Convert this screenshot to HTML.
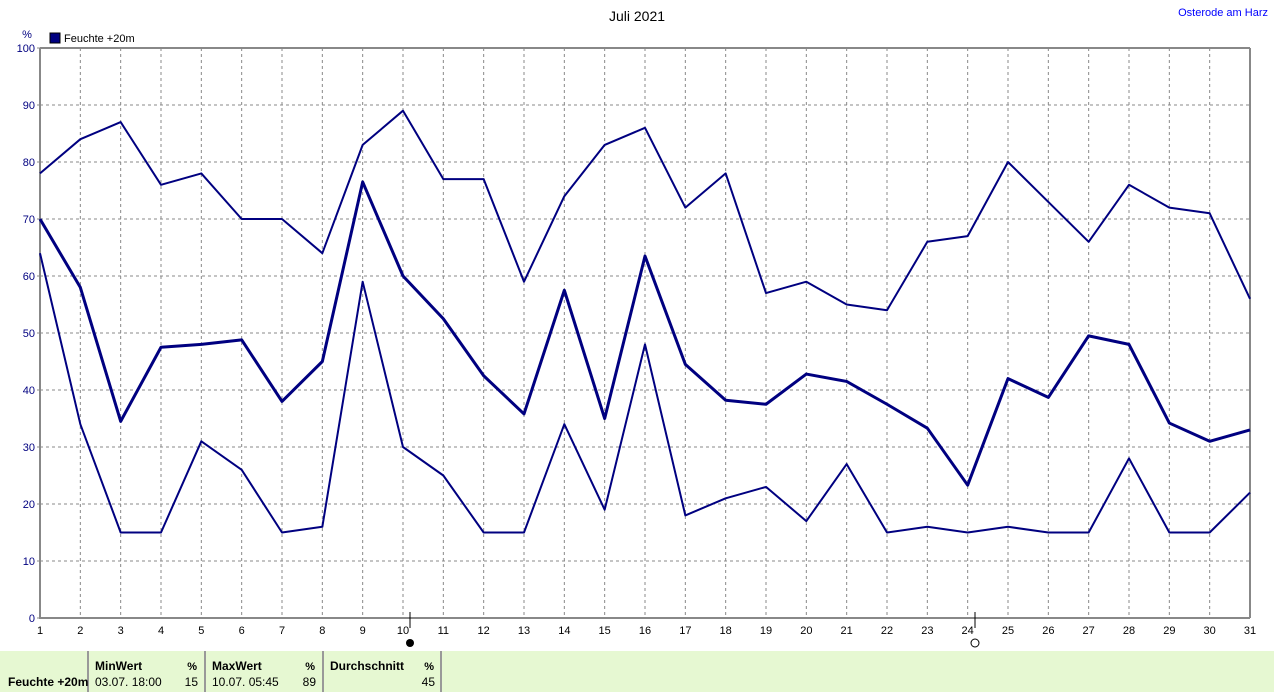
<!DOCTYPE html><html><head><style>
body{margin:0;width:1274px;height:692px;background:#fff;overflow:hidden;font-family:"Liberation Sans",sans-serif;}
</style></head><body>
<svg id="s" width="1274" height="692" xmlns="http://www.w3.org/2000/svg" font-family="Liberation Sans, sans-serif"></svg>
<script>
const mx=[78,84,87,76,78,70,70,64,83,89,77,77,59,74,83,86,72,78,57,59,55,54,66,67,80,73,66,76,72,71,56];
const av=[70,58,34.5,47.5,48,48.8,38,45,76.5,60,52.5,42.5,35.8,57.5,35,63.5,44.5,38.2,37.5,42.8,41.5,37.5,33.3,23.3,42,38.7,49.5,48,34.2,31,33];
const mn=[64,34,15,15,31,26,15,16,59,30,25,15,15,34,19,48,18,21,23,17,27,15,16,15,16,15,15,28,15,15,22];
const X=i=>40+i*1210/30, Y=v=>618-v*5.7;
let h='';
h+='<text x="637" y="21" font-size="14" text-anchor="middle">Juli 2021</text>';
h+='<text x="1268" y="16" font-size="11" fill="#0000ff" text-anchor="end">Osterode am Harz</text>';
h+='<text x="27" y="38" font-size="11" fill="#000080" text-anchor="middle">%</text>';
h+='<rect x="50" y="33" width="10" height="10" fill="#000080" stroke="#000" stroke-width="1"/><text x="64" y="42" font-size="11">Feuchte +20m</text>';
for(let v=10;v<100;v+=10)h+=`<line x1="40" x2="1250" y1="${Y(v)}" y2="${Y(v)}" stroke="#888" stroke-dasharray="3,3"/>`;
for(let i=1;i<30;i++)h+=`<line x1="${X(i)}" x2="${X(i)}" y1="48" y2="618" stroke="#888" stroke-dasharray="3,3"/>`;
h+='<line x1="40" x2="1250" y1="48" y2="48" stroke="#888" stroke-width="2"/><line x1="40" x2="40" y1="48" y2="619" stroke="#888" stroke-width="2"/><line x1="40" x2="1250" y1="618" y2="618" stroke="#888" stroke-width="2"/><line x1="1250" x2="1250" y1="48" y2="618" stroke="#888" stroke-width="2"/>';
for(let v=0;v<=100;v+=10)h+=`<text x="35" y="${Y(v)+4}" font-size="11" fill="#000080" text-anchor="end">${v}</text><line x1="37" x2="40" y1="${Y(v)}" y2="${Y(v)}" stroke="#888"/>`;
for(let i=0;i<31;i++)h+=`<text x="${X(i)}" y="634" font-size="11" text-anchor="middle">${i+1}</text>`;
h+='<line x1="410" x2="410" y1="612" y2="628" stroke="#000"/><circle cx="410" cy="643" r="4" fill="#000"/>';
h+='<line x1="975" x2="975" y1="612" y2="628" stroke="#000"/><circle cx="975" cy="643" r="4" fill="#fff" stroke="#000"/>';
const pl=(d,w)=>`<polyline fill="none" stroke="#000080" stroke-width="${w}" stroke-linejoin="round" points="${d.map((v,i)=>X(i)+','+Y(v)).join(' ')}"/>`;
h+=pl(mx,2)+pl(mn,2)+pl(av,3);
h+='<rect x="0" y="651" width="1274" height="41" fill="#e6f8d2"/>';
[88,205,323,441].forEach(x=>h+=`<line x1="${x}" x2="${x}" y1="651" y2="692" stroke="#999" stroke-width="2"/>`);
h+='<text x="8" y="686" font-size="12" font-weight="bold">Feuchte +20m</text>';
h+='<text x="95" y="670" font-size="12" font-weight="bold">MinWert</text><text x="197" y="670" font-size="11" font-weight="bold" text-anchor="end">%</text><text x="95" y="686" font-size="12">03.07.  18:00</text><text x="198" y="686" font-size="12" text-anchor="end">15</text>';
h+='<text x="212" y="670" font-size="12" font-weight="bold">MaxWert</text><text x="315" y="670" font-size="11" font-weight="bold" text-anchor="end">%</text><text x="212" y="686" font-size="12">10.07.  05:45</text><text x="316" y="686" font-size="12" text-anchor="end">89</text>';
h+='<text x="330" y="670" font-size="12" font-weight="bold">Durchschnitt</text><text x="434" y="670" font-size="11" font-weight="bold" text-anchor="end">%</text><text x="435" y="686" font-size="12" text-anchor="end">45</text>';
document.getElementById('s').innerHTML=h;
</script></body></html>
